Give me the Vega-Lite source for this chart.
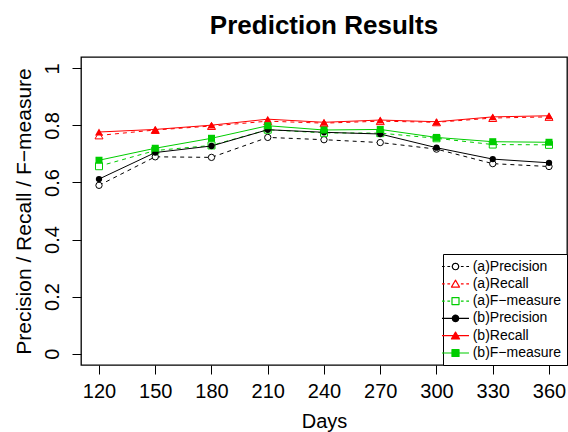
{
  "$schema": "https://vega.github.io/schema/vega-lite/v6.json",
  "width": 486,
  "height": 308,
  "autosize": {"type": "none"},
  "padding": {"left": 81, "top": 57, "right": 1, "bottom": 67},
  "title": {"text": "Prediction Results", "anchor": "middle", "fontSize": 26, "fontWeight": "bold", "font": "Liberation Sans", "color": "black", "baseline": "alphabetic", "offset": -3},
  "config": {
    "view": {"stroke": "black", "strokeWidth": 1.3},
    "font": "Liberation Sans",
    "axis": {"grid": false, "domain": false, "tickColor": "black", "tickSize": 9, "tickWidth": 1, "labelColor": "black", "titleColor": "black", "labelFont": "Liberation Sans", "titleFont": "Liberation Sans", "labelFontSize": 20, "titleFontSize": 20, "titleFontWeight": "normal"}
  },
  "datasets": {"results": [
    {"day": 120, "series": "(a)Precision", "value": 0.590},
    {"day": 150, "series": "(a)Precision", "value": 0.690},
    {"day": 180, "series": "(a)Precision", "value": 0.688},
    {"day": 210, "series": "(a)Precision", "value": 0.758},
    {"day": 240, "series": "(a)Precision", "value": 0.750},
    {"day": 270, "series": "(a)Precision", "value": 0.740},
    {"day": 300, "series": "(a)Precision", "value": 0.717},
    {"day": 330, "series": "(a)Precision", "value": 0.666},
    {"day": 360, "series": "(a)Precision", "value": 0.656},
    {"day": 120, "series": "(a)Recall", "value": 0.765},
    {"day": 150, "series": "(a)Recall", "value": 0.784},
    {"day": 180, "series": "(a)Recall", "value": 0.798},
    {"day": 210, "series": "(a)Recall", "value": 0.815},
    {"day": 240, "series": "(a)Recall", "value": 0.808},
    {"day": 270, "series": "(a)Recall", "value": 0.815},
    {"day": 300, "series": "(a)Recall", "value": 0.811},
    {"day": 330, "series": "(a)Recall", "value": 0.826},
    {"day": 360, "series": "(a)Recall", "value": 0.830},
    {"day": 120, "series": "(a)F−measure", "value": 0.657},
    {"day": 150, "series": "(a)F−measure", "value": 0.712},
    {"day": 180, "series": "(a)F−measure", "value": 0.730},
    {"day": 210, "series": "(a)F−measure", "value": 0.785},
    {"day": 240, "series": "(a)F−measure", "value": 0.774},
    {"day": 270, "series": "(a)F−measure", "value": 0.773},
    {"day": 300, "series": "(a)F−measure", "value": 0.755},
    {"day": 330, "series": "(a)F−measure", "value": 0.733},
    {"day": 360, "series": "(a)F−measure", "value": 0.732},
    {"day": 120, "series": "(b)Precision", "value": 0.612},
    {"day": 150, "series": "(b)Precision", "value": 0.705},
    {"day": 180, "series": "(b)Precision", "value": 0.728},
    {"day": 210, "series": "(b)Precision", "value": 0.785},
    {"day": 240, "series": "(b)Precision", "value": 0.776},
    {"day": 270, "series": "(b)Precision", "value": 0.770},
    {"day": 300, "series": "(b)Precision", "value": 0.722},
    {"day": 330, "series": "(b)Precision", "value": 0.682},
    {"day": 360, "series": "(b)Precision", "value": 0.669},
    {"day": 120, "series": "(b)Recall", "value": 0.777},
    {"day": 150, "series": "(b)Recall", "value": 0.786},
    {"day": 180, "series": "(b)Recall", "value": 0.801},
    {"day": 210, "series": "(b)Recall", "value": 0.822},
    {"day": 240, "series": "(b)Recall", "value": 0.811},
    {"day": 270, "series": "(b)Recall", "value": 0.819},
    {"day": 300, "series": "(b)Recall", "value": 0.813},
    {"day": 330, "series": "(b)Recall", "value": 0.830},
    {"day": 360, "series": "(b)Recall", "value": 0.834},
    {"day": 120, "series": "(b)F−measure", "value": 0.678},
    {"day": 150, "series": "(b)F−measure", "value": 0.720},
    {"day": 180, "series": "(b)F−measure", "value": 0.755},
    {"day": 210, "series": "(b)F−measure", "value": 0.799},
    {"day": 240, "series": "(b)F−measure", "value": 0.784},
    {"day": 270, "series": "(b)F−measure", "value": 0.786},
    {"day": 300, "series": "(b)F−measure", "value": 0.758},
    {"day": 330, "series": "(b)F−measure", "value": 0.743},
    {"day": 360, "series": "(b)F−measure", "value": 0.741}
  ]},
  "data": {"name": "results"},
  "encoding": {
    "x": {"field": "day", "type": "quantitative", "scale": {"domain": [110.4, 369.6], "nice": false, "zero": false},
      "axis": {"values": [120, 150, 180, 210, 240, 270, 300, 330, 360], "title": "Days", "labelPadding": 7, "titlePadding": 10}},
    "y": {"field": "value", "type": "quantitative", "scale": {"domain": [-0.04, 1.04], "nice": false, "zero": false},
      "axis": {"values": [0, 0.2, 0.4, 0.6, 0.8, 1], "format": "~g", "title": "Precision / Recall / F−measure", "titleFontSize": 21, "labelAngle": -90, "labelAlign": "center", "labelBaseline": "bottom", "labelPadding": 10, "titlePadding": 8}}
  },
  "layer": [
    {
      "transform": [{"filter": {"field": "series", "oneOf": ["(a)Precision", "(a)Recall", "(a)F−measure"]}}],
      "mark": {"type": "line", "strokeWidth": 1, "strokeDash": [4, 4]},
      "encoding": {
        "color": {"field": "series", "type": "nominal",
          "scale": {"domain": ["(a)Precision", "(a)Recall", "(a)F−measure", "(b)Precision", "(b)Recall", "(b)F−measure"], "range": ["black", "red", "#00CD00", "black", "red", "#00CD00"]},
          "legend": {
            "title": null, "orient": "bottom-right", "offset": 0, "strokeColor": "black", "fillColor": "white", "padding": 5, "cornerRadius": 0,
            "labelFontSize": 14, "labelFont": "Liberation Sans", "labelColor": "black", "labelOffset": 9.7, "symbolSize": 100, "rowPadding": 2.3,
            "encode": {"symbols": {"update": {
              "shape": {"signal": "{'(a)Precision': 'M-2,0L-1.6,0M-1.2,0L-0.8,0M0.8,0L1.2,0M1.6,0L2,0M0.48,0L0.416,0.24L0.24,0.416L0,0.48L-0.24,0.416L-0.416,0.24L-0.48,0L-0.416,-0.24L-0.24,-0.416L0,-0.48L0.24,-0.416L0.416,-0.24Z', '(a)Recall': 'M-2,0L-1.6,0M-1.2,0L-0.8,0M0.8,0L1.2,0M1.6,0L2,0M0,-0.54L0.6,0.48L-0.6,0.48Z', '(a)F−measure': 'M-2,0L-1.6,0M-1.2,0L-0.8,0M0.8,0L1.2,0M1.6,0L2,0M-0.52,-0.52L0.52,-0.52L0.52,0.52L-0.52,0.52Z', '(b)Precision': 'M-2,0L2,0M0.48,0L0.416,0.24L0.24,0.416L0,0.48L-0.24,0.416L-0.416,0.24L-0.48,0L-0.416,-0.24L-0.24,-0.416L0,-0.48L0.24,-0.416L0.416,-0.24Z', '(b)Recall': 'M-2,0L2,0M0,-0.54L0.6,0.48L-0.6,0.48Z', '(b)F−measure': 'M-2,0L2,0M-0.52,-0.52L0.52,-0.52L0.52,0.52L-0.52,0.52Z'}[datum.value]"},
              "fill": {"signal": "{'(a)Precision': 'white', '(a)Recall': 'white', '(a)F−measure': 'white', '(b)Precision': 'black', '(b)Recall': 'red', '(b)F−measure': '#00CD00'}[datum.value]"},
              "size": {"value": 182.25},
              "strokeWidth": {"value": 1.2},
              "strokeJoin": {"value": "round"},
              "strokeDash": {"value": [1, 0]},
              "opacity": {"value": 1},
              "fillOpacity": {"value": 1},
              "strokeOpacity": {"value": 1}
            }}}
          }}
      }
    },
    {
      "transform": [{"filter": {"field": "series", "equal": "(a)Precision"}}],
      "mark": {"type": "point", "shape": "circle", "filled": false, "fill": "white", "stroke": "black", "size": 40, "strokeWidth": 1, "opacity": 1}
    },
    {
      "transform": [{"filter": {"field": "series", "equal": "(a)Recall"}}],
      "mark": {"type": "point", "shape": "triangle-up", "filled": false, "fill": "white", "stroke": "red", "size": 64, "strokeWidth": 1, "opacity": 1}
    },
    {
      "transform": [{"filter": {"field": "series", "equal": "(a)F−measure"}}],
      "mark": {"type": "point", "shape": "square", "filled": false, "fill": "white", "stroke": "#00CD00", "size": 49, "strokeWidth": 1, "opacity": 1}
    },
    {
      "transform": [{"filter": {"field": "series", "oneOf": ["(b)Precision", "(b)Recall", "(b)F−measure"]}}],
      "mark": {"type": "line", "strokeWidth": 1},
      "encoding": {
        "color": {"field": "series", "type": "nominal",
          "scale": {"domain": ["(a)Precision", "(a)Recall", "(a)F−measure", "(b)Precision", "(b)Recall", "(b)F−measure"], "range": ["black", "red", "#00CD00", "black", "red", "#00CD00"]},
          "legend": {
            "title": null, "orient": "bottom-right", "offset": 0, "strokeColor": "black", "fillColor": "white", "padding": 5, "cornerRadius": 0,
            "labelFontSize": 14, "labelFont": "Liberation Sans", "labelColor": "black", "labelOffset": 9.7, "symbolSize": 100, "rowPadding": 2.3,
            "encode": {"symbols": {"update": {
              "shape": {"signal": "{'(a)Precision': 'M-2,0L-1.6,0M-1.2,0L-0.8,0M0.8,0L1.2,0M1.6,0L2,0M0.48,0L0.416,0.24L0.24,0.416L0,0.48L-0.24,0.416L-0.416,0.24L-0.48,0L-0.416,-0.24L-0.24,-0.416L0,-0.48L0.24,-0.416L0.416,-0.24Z', '(a)Recall': 'M-2,0L-1.6,0M-1.2,0L-0.8,0M0.8,0L1.2,0M1.6,0L2,0M0,-0.54L0.6,0.48L-0.6,0.48Z', '(a)F−measure': 'M-2,0L-1.6,0M-1.2,0L-0.8,0M0.8,0L1.2,0M1.6,0L2,0M-0.52,-0.52L0.52,-0.52L0.52,0.52L-0.52,0.52Z', '(b)Precision': 'M-2,0L2,0M0.48,0L0.416,0.24L0.24,0.416L0,0.48L-0.24,0.416L-0.416,0.24L-0.48,0L-0.416,-0.24L-0.24,-0.416L0,-0.48L0.24,-0.416L0.416,-0.24Z', '(b)Recall': 'M-2,0L2,0M0,-0.54L0.6,0.48L-0.6,0.48Z', '(b)F−measure': 'M-2,0L2,0M-0.52,-0.52L0.52,-0.52L0.52,0.52L-0.52,0.52Z'}[datum.value]"},
              "fill": {"signal": "{'(a)Precision': 'white', '(a)Recall': 'white', '(a)F−measure': 'white', '(b)Precision': 'black', '(b)Recall': 'red', '(b)F−measure': '#00CD00'}[datum.value]"},
              "size": {"value": 182.25},
              "strokeWidth": {"value": 1.2},
              "strokeJoin": {"value": "round"},
              "strokeDash": {"value": [1, 0]},
              "opacity": {"value": 1},
              "fillOpacity": {"value": 1},
              "strokeOpacity": {"value": 1}
            }}}
          }}
      }
    },
    {
      "transform": [{"filter": {"field": "series", "equal": "(b)Precision"}}],
      "mark": {"type": "point", "shape": "circle", "filled": true, "color": "black", "size": 40, "opacity": 1}
    },
    {
      "transform": [{"filter": {"field": "series", "equal": "(b)Recall"}}],
      "mark": {"type": "point", "shape": "triangle-up", "filled": true, "color": "red", "size": 64, "opacity": 1}
    },
    {
      "transform": [{"filter": {"field": "series", "equal": "(b)F−measure"}}],
      "mark": {"type": "point", "shape": "square", "filled": true, "color": "#00CD00", "size": 49, "opacity": 1}
    }
  ]
}
